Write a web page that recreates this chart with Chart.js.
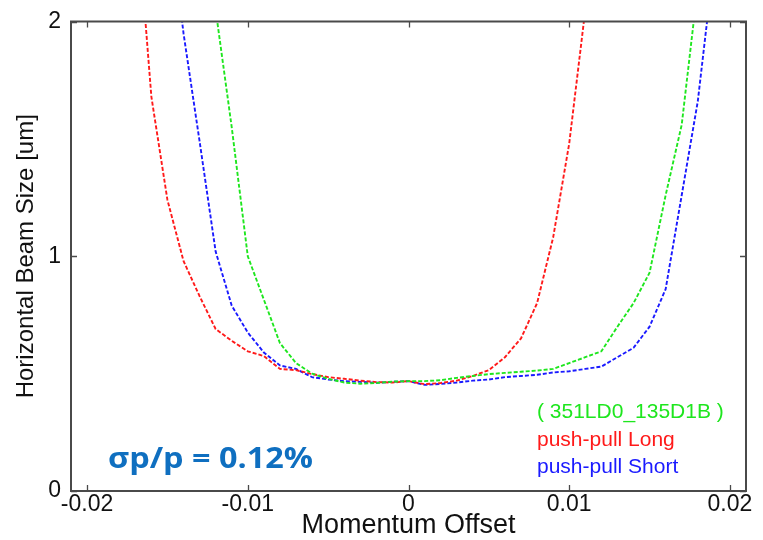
<!DOCTYPE html>
<html>
<head>
<meta charset="utf-8">
<script src="https://cdn.jsdelivr.net/npm/chart.js@4/dist/chart.umd.min.js"></script>
<style>
  html, body { margin: 0; padding: 0; background: #ffffff; }
  #wrap { width: 763px; height: 540px; position: relative; }
</style>
</head>
<body>
<div id="wrap"><canvas id="c"></canvas></div>
<script>
// Momentum offsets (dp/p) sampled every 0.001
const offsets = [
  -0.017, -0.016, -0.015, -0.014, -0.013, -0.012, -0.011, -0.010, -0.009, -0.008,
  -0.007, -0.006, -0.005, -0.004, -0.003, -0.002, -0.001, 0.000, 0.001, 0.002,
  0.003, 0.004, 0.005, 0.006, 0.007, 0.008, 0.009, 0.010, 0.011, 0.012,
  0.013, 0.014, 0.015, 0.016, 0.017, 0.018, 0.019
];

// Horizontal beam size [um] for each optics
const nominal = [
  null, null, null, null, 2.55, 2.05, 1.55, 1.00, 0.815, 0.63,
  0.545, 0.50, 0.478, 0.462, 0.457, 0.46, 0.466, 0.468, 0.468, 0.472,
  0.482, 0.49, 0.498, 0.503, 0.508, 0.513, 0.52, 0.545, 0.57, 0.595,
  0.70, 0.80, 0.93, 1.26, 1.56, 2.15, null
];
const pushPullLong = [
  2.55, 1.68, 1.24, 0.98, 0.83, 0.69, 0.64, 0.595, 0.575, 0.52,
  0.515, 0.498, 0.485, 0.478, 0.47, 0.464, 0.462, 0.468, 0.455, 0.46,
  0.47, 0.49, 0.515, 0.57, 0.65, 0.80, 1.08, 1.48, 2.05, null,
  null, null, null, null, null, null, null
];
const pushPullShort = [
  null, null, 2.52, 1.95, 1.49, 1.02, 0.79, 0.675, 0.59, 0.535,
  0.52, 0.485, 0.475, 0.468, 0.465, 0.461, 0.465, 0.468, 0.452, 0.456,
  0.462, 0.47, 0.475, 0.485, 0.49, 0.495, 0.505, 0.51, 0.52, 0.53,
  0.57, 0.61, 0.70, 0.86, 1.26, 1.66, 2.25
];

const seriesNames = ['( 351LD0_135D1B )', 'push-pull Long', 'push-pull Short'];
const xTickValues = [-0.02, -0.01, 0, 0.01, 0.02];
const yTickValues = [0, 1, 2];
const xTickLabels = ['-0.02', '-0.01', '0', '0.01', '0.02'];
const spreadLabel = '\u03c3p/p = 0.12%';

const toPoints = vals => offsets.map((x, i) => ({ x: x, y: vals[i] }));

function seriesStyle(color) {
  return {
    borderColor: color,
    backgroundColor: color,
    borderWidth: 1.9,
    borderDash: [4, 2],
    pointRadius: 0,
    tension: 0,
    spanGaps: false,
    clip: 0
  };
}

// Frame, inward tick marks, series captions and the energy-spread note
const framePlugin = {
  id: 'frame',
  afterDatasetsDraw(chart) {
    const { ctx, chartArea: a, scales } = chart;
    const xs = scales.x, ys = scales.y;
    ctx.save();
    ctx.strokeStyle = '#4a4a4a';
    ctx.lineWidth = 2;
    ctx.strokeRect(a.left, a.top, a.right - a.left, a.bottom - a.top);
    ctx.lineWidth = 1.3;
    const tl = 6;
    ctx.beginPath();
    xTickValues.forEach(v => {
      const px = Math.round(xs.getPixelForValue(v)) + 0.5;
      ctx.moveTo(px, a.bottom); ctx.lineTo(px, a.bottom - tl);
      ctx.moveTo(px, a.top); ctx.lineTo(px, a.top + tl);
    });
    yTickValues.forEach(v => {
      const py = Math.round(ys.getPixelForValue(v)) + 0.5;
      ctx.moveTo(a.left, py); ctx.lineTo(a.left + tl, py);
      ctx.moveTo(a.right, py); ctx.lineTo(a.right - tl, py);
    });
    ctx.stroke();

    // series captions
    ctx.font = '21px "Liberation Sans", Arial, sans-serif';
    ctx.textAlign = 'left';
    ctx.textBaseline = 'middle';
    const capY = [412, 440, 467];
    chart.data.datasets.forEach((ds, i) => {
      ctx.fillStyle = ds.borderColor;
      ctx.fillText(ds.label, 537, capY[i]);
    });

    // energy spread note
    ctx.font = 'bold 29px "Open Sans", "Noto Sans", sans-serif';
    ctx.textBaseline = 'alphabetic';
    ctx.fillStyle = '#0f6fc0';
    const w = ctx.measureText(spreadLabel).width;
    const sx = 205 / w;
    ctx.translate(108, 468);
    ctx.scale(sx, 1);
    ctx.fillText(spreadLabel, 0, 0);
    ctx.restore();
  }
};

new Chart(document.getElementById('c'), {
  type: 'line',
  data: {
    datasets: [
      Object.assign({ label: seriesNames[0], data: toPoints(nominal) }, seriesStyle('#1ee61e')),
      Object.assign({ label: seriesNames[1], data: toPoints(pushPullLong) }, seriesStyle('#ff1a1a')),
      Object.assign({ label: seriesNames[2], data: toPoints(pushPullShort) }, seriesStyle('#1a1aff'))
    ]
  },
  options: {
    responsive: true,
    maintainAspectRatio: false,
    animation: false,
    layout: { padding: { top: 17, right: 17, left: 0, bottom: 0 } },
    plugins: {
      legend: { display: false },
      tooltip: { enabled: false }
    },
    scales: {
      x: {
        type: 'linear',
        min: -0.021,
        max: 0.021,
        afterFit(s) { s.height = 49; },
        afterBuildTicks(s) { s.ticks = xTickValues.map(v => ({ value: v })); },
        grid: { display: false, drawTicks: false },
        border: { display: false },
        ticks: {
          padding: 2,
          color: '#111',
          font: { family: '"Liberation Sans", Arial, sans-serif', size: 23, lineHeight: 1 },
          callback: (v) => xTickLabels[xTickValues.findIndex(t => Math.abs(t - v) < 1e-9)],
          maxRotation: 0,
          autoSkip: false
        },
        title: {
          display: true,
          text: 'Momentum Offset',
          color: '#111',
          font: { family: '"Liberation Sans", Arial, sans-serif', size: 27, lineHeight: 1 },
          padding: { top: 0, bottom: 1 }
        }
      },
      y: {
        type: 'linear',
        min: 0,
        max: 2,
        afterFit(s) { s.width = 71; },
        afterBuildTicks(s) { s.ticks = yTickValues.map(v => ({ value: v })); },
        grid: { display: false, drawTicks: false },
        border: { display: false },
        ticks: {
          padding: 10,
          color: '#111',
          font: { family: '"Liberation Sans", Arial, sans-serif', size: 23, lineHeight: 1 },
          callback: (v) => String(v)
        },
        title: {
          display: true,
          text: 'Horizontal Beam Size [um]',
          color: '#111',
          font: { family: '"Liberation Sans", Arial, sans-serif', size: 24, lineHeight: 1 },
          padding: { top: 14, bottom: 0 }
        }
      }
    }
  },
  plugins: [framePlugin]
});
</script>
</body>
</html>
